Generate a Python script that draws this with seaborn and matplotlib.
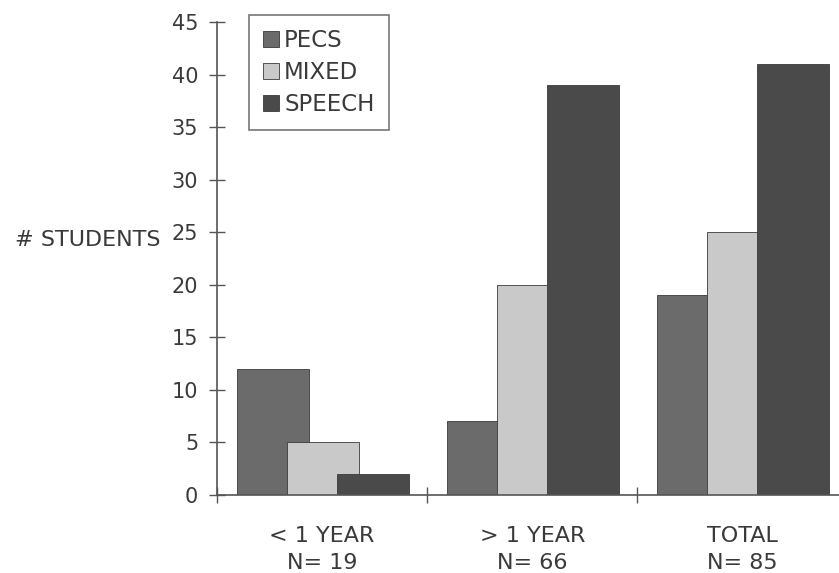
import pandas as pd
import seaborn as sns
import matplotlib.pyplot as plt

## Data
groups = ["< 1 YEAR\nN= 19", "> 1 YEAR\nN= 66", "TOTAL\nN= 85"]
modes = ["PECS", "MIXED", "SPEECH"]
pecs = [12, 7, 19]
mixed = [5, 20, 25]
speech = [2, 39, 41]

df = pd.DataFrame({"group": groups * 3,
                   "mode": [m for m in modes for _ in groups],
                   "students": pecs + mixed + speech})

palette = {"PECS": "#6b6b6b", "MIXED": "#c9c9c9", "SPEECH": "#4a4a4a"}
txt = "#3a3a3a"

sns.set_style("ticks")
plt.rcParams['font.family'] = ['DejaVu Sans']

fig = plt.figure(figsize=(8.39, 5.73), dpi=100)
ax = fig.add_axes([217 / 839, 1 - 495 / 573, (839 - 217) / 839, (495 - 22) / 573])

sns.barplot(data=df, x="group", y="students", hue="mode", hue_order=modes,
            palette=palette, width=0.714, saturation=1, ax=ax,
            edgecolor="#3a3a3a", linewidth=0.6)

# bars overlap a bit: widen each bar, keep step
for p in ax.patches:
    if p.get_height() > 0:
        p.set_x(p.get_x() - 0.048)
        p.set_width(0.343)

ax.set_xlim(-0.5, 2.46)
ax.set_ylim(0, 45)
ax.set_yticks(range(0, 46, 5))
ax.set_xticks([-0.5, 0.5, 1.5])
ax.set_xticklabels([])
ax.tick_params(axis="both", which="major", direction="inout", length=11,
               width=1, color="#555555", labelsize=15, labelcolor=txt,
               left=True, bottom=True)
ax.tick_params(axis="y", pad=8)
for i, g in enumerate(groups):
    ax.text(i, -2.95, g, ha="center", va="top", fontsize=16, color=txt,
            linespacing=1.42, transform=ax.transData)

sns.despine(ax=ax)
for s in ["left", "bottom"]:
    ax.spines[s].set_color("#555555")
    ax.spines[s].set_linewidth(1.2)

ax.set_xlabel("")
ax.set_ylabel("# STUDENTS", rotation=0, fontsize=16, color=txt,
              ha="center", va="center")
ax.yaxis.set_label_coords(-0.207, 0.539)

leg = ax.legend(loc="upper left", bbox_to_anchor=(0.051, 1.015), fontsize=16.5,
                frameon=True, fancybox=False, edgecolor="#555555",
                handlelength=0.68, handleheight=0.68, handletextpad=0.25,
                labelspacing=0.39, borderpad=0.62, labelcolor=txt,
                borderaxespad=0)
leg.get_frame().set_linewidth(1.2)

fig.savefig("out.png", dpi=100, facecolor="white")
